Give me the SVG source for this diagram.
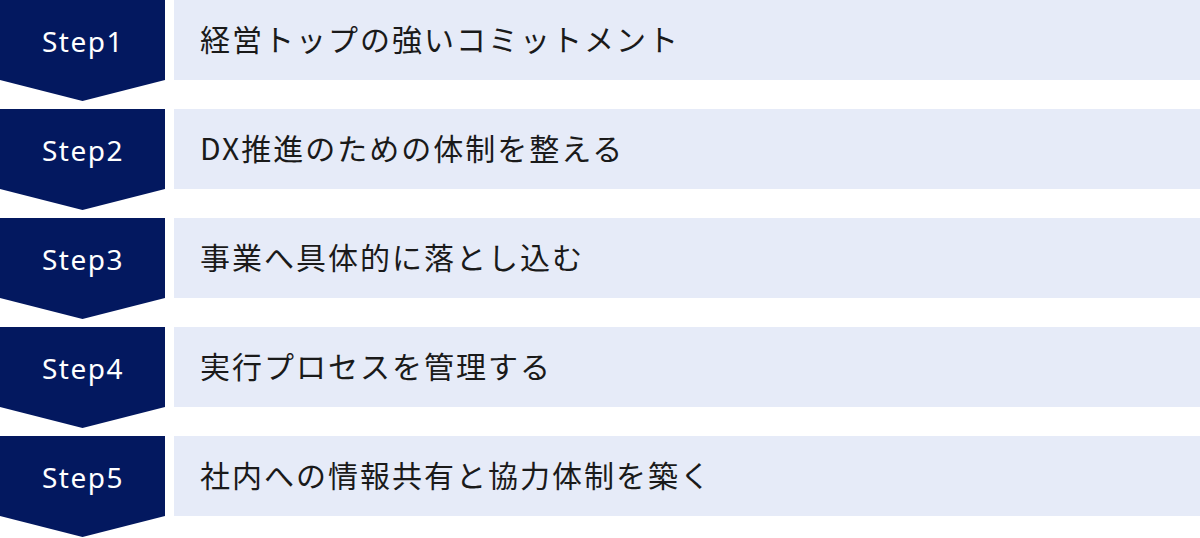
<svg xmlns="http://www.w3.org/2000/svg" width="1200" height="538" viewBox="0 0 1200 538">
<defs>
<style>
.chev{fill:#03185f}
.bar{fill:#e6ebf8}
.step{font-family:"Noto Sans","Noto Sans CJK JP",sans-serif;font-size:28px;fill:#ffffff;text-anchor:middle;letter-spacing:1.5px}
.lbl{font-family:"Noto Sans CJK JP","Noto Sans",sans-serif;font-size:30px;fill:#1a1a1a;letter-spacing:2px}
</style>
<path id="chevShape" class="chev" d="M0,0H165V80L82.5,101L0,80Z"/>
</defs>
<rect width="1200" height="538" fill="#ffffff"/>
<g id="connectors"></g>
<g id="step1" transform="translate(0,0)">
<use href="#chevShape"/>
<rect class="bar" x="174" y="0" width="1026" height="80"/>
<text class="step" x="83" y="52">Step1</text>
<text class="lbl" x="200" y="51">経営トップの強いコミットメント</text>
</g>
<g id="step2" transform="translate(0,109)">
<use href="#chevShape"/>
<rect class="bar" x="174" y="0" width="1026" height="80"/>
<text class="step" x="83" y="52">Step2</text>
<text class="lbl" x="200" y="51">DX推進のための体制を整える</text>
</g>
<g id="step3" transform="translate(0,218)">
<use href="#chevShape"/>
<rect class="bar" x="174" y="0" width="1026" height="80"/>
<text class="step" x="83" y="52">Step3</text>
<text class="lbl" x="200" y="51">事業へ具体的に落とし込む</text>
</g>
<g id="step4" transform="translate(0,327)">
<use href="#chevShape"/>
<rect class="bar" x="174" y="0" width="1026" height="80"/>
<text class="step" x="83" y="52">Step4</text>
<text class="lbl" x="200" y="51">実行プロセスを管理する</text>
</g>
<g id="step5" transform="translate(0,436)">
<use href="#chevShape"/>
<rect class="bar" x="174" y="0" width="1026" height="80"/>
<text class="step" x="83" y="52">Step5</text>
<text class="lbl" x="200" y="51">社内への情報共有と協力体制を築く</text>
</g>
</svg>
